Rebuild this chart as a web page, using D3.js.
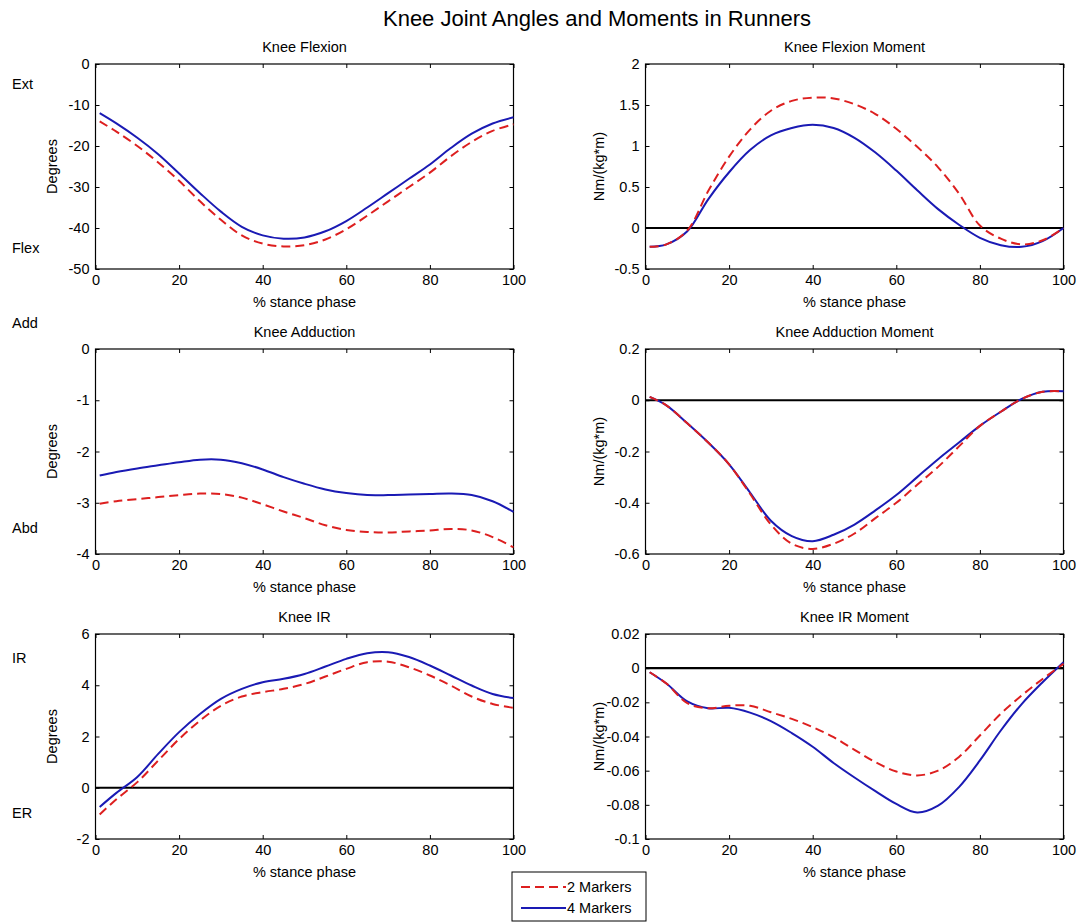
<!DOCTYPE html>
<html>
<head>
<meta charset="utf-8">
<script src="https://cdn.jsdelivr.net/npm/d3@7"></script>
<style>
body { margin: 0; background: #fff; }
text { font-family: "Liberation Sans", Arial, sans-serif; fill: #000; }
</style>
</head>
<body>
<div id="chart"></div>
<script>
// % stance phase samples
const pct = [1, 5, 10, 15, 20, 25, 30, 35, 40, 45, 50, 55, 60, 65, 70, 75, 80, 85, 90, 95, 100];
const xTicks = [0, 20, 40, 60, 80, 100];

// knee flexion (deg)
const flex2 = [-14, -16.5, -20, -24, -28.5, -33.5, -38, -41.8, -43.8, -44.5, -44.2, -42.8, -40.3, -37, -33.5, -30, -26.5, -22.5, -19, -16.3, -14.7];
const flex4 = [-12, -14.5, -18, -22, -26.7, -31.5, -36, -39.7, -41.8, -42.6, -42.3, -40.8, -38.3, -35, -31.5, -28, -24.5, -20.5, -17, -14.5, -13];
const flexTicks = [0, -10, -20, -30, -40, -50];

// knee flexion moment
const flexMom2 = [-0.23, -0.2, -0.03, 0.45, 0.87, 1.2, 1.43, 1.55, 1.59, 1.58, 1.51, 1.39, 1.21, 0.99, 0.74, 0.42, 0.03, -0.13, -0.2, -0.15, 0];
const flexMom4 = [-0.23, -0.2, -0.04, 0.35, 0.68, 0.95, 1.13, 1.22, 1.26, 1.22, 1.1, 0.92, 0.7, 0.46, 0.23, 0.04, -0.12, -0.21, -0.23, -0.16, 0];
const flexMomTicks = [2, 1.5, 1, 0.5, 0, -0.5];

// knee adduction (deg)
const add2 = [-3.02, -2.97, -2.93, -2.89, -2.85, -2.82, -2.83, -2.9, -3.03, -3.17, -3.3, -3.44, -3.53, -3.57, -3.58, -3.56, -3.54, -3.51, -3.54, -3.67, -3.87];
const add4 = [-2.47, -2.4, -2.33, -2.27, -2.21, -2.16, -2.16, -2.23, -2.35, -2.5, -2.63, -2.74, -2.81, -2.85, -2.85, -2.84, -2.83, -2.82, -2.85, -2.97, -3.18];
const addTicks = [0, -1, -2, -3, -4];

// knee adduction moment
const addMom2 = [0.013, -0.02, -0.09, -0.165, -0.25, -0.365, -0.485, -0.56, -0.58, -0.56, -0.52, -0.46, -0.4, -0.33, -0.26, -0.18, -0.1, -0.045, 0.005, 0.033, 0.035];
const addMom4 = [0.013, -0.02, -0.09, -0.165, -0.25, -0.36, -0.47, -0.53, -0.55, -0.525, -0.485, -0.43, -0.37, -0.3, -0.23, -0.165, -0.1, -0.045, 0.005, 0.033, 0.035];
const addMomTicks = [0.2, 0, -0.2, -0.4, -0.6];

// knee internal rotation (deg)
const ir2 = [-1.04, -0.45, 0.22, 1.06, 1.9, 2.62, 3.2, 3.56, 3.73, 3.86, 4.05, 4.34, 4.64, 4.9, 4.92, 4.7, 4.38, 3.99, 3.56, 3.27, 3.12];
const ir4 = [-0.75, -0.2, 0.42, 1.32, 2.17, 2.88, 3.47, 3.86, 4.12, 4.25, 4.44, 4.73, 5.03, 5.25, 5.29, 5.1, 4.77, 4.38, 3.99, 3.66, 3.5];
const irTicks = [6, 4, 2, 0, -2];

// knee IR moment
const irMom2 = [-0.0024, -0.009, -0.0205, -0.0235, -0.022, -0.022, -0.0258, -0.0297, -0.0345, -0.0404, -0.0478, -0.055, -0.0605, -0.0628, -0.06, -0.052, -0.0394, -0.0267, -0.016, -0.0063, 0.0025];
const irMom4 = [-0.0024, -0.009, -0.0195, -0.0235, -0.0232, -0.026, -0.031, -0.038, -0.046, -0.0555, -0.064, -0.072, -0.0795, -0.0845, -0.0805, -0.0696, -0.054, -0.0365, -0.021, -0.0082, 0.0035];
const irMomTicks = [0.02, 0, -0.02, -0.04, -0.06, -0.08, -0.1];

const titles = ['Knee Flexion', 'Knee Flexion Moment', 'Knee Adduction', 'Knee Adduction Moment', 'Knee IR', 'Knee IR Moment'];
const sideLabels = [['Ext', 'Flex'], ['Add', 'Abd'], ['IR', 'ER']];
const seriesNames = ['2 Markers', '4 Markers'];

const red = '#dd1f1f', blue = '#1a1ab4';
const fs = '14.5px';

const W = 1079, H = 922;
const svg = d3.select('#chart').append('svg').attr('width', W).attr('height', H);

// layout (px)
const colX = [95.5, 645.5], pw = 418, ph = 205;
const rowY = [64, 349, 634];
const sideY = [[84, 248], [323, 528], [658, 813]];

svg.append('text')
    .attr('x', 597).attr('y', 18)
    .attr('dy', '0.35em')
    .attr('text-anchor', 'middle')
    .style('font-size', '22px')
    .text('Knee Joint Angles and Moments in Runners');

const panels = [
    { two: flex2, four: flex4, ticks: flexTicks, unit: 'Degrees', zero: false },
    { two: flexMom2, four: flexMom4, ticks: flexMomTicks, unit: 'Nm/(kg*m)', zero: true },
    { two: add2, four: add4, ticks: addTicks, unit: 'Degrees', zero: false },
    { two: addMom2, four: addMom4, ticks: addMomTicks, unit: 'Nm/(kg*m)', zero: true },
    { two: ir2, four: ir4, ticks: irTicks, unit: 'Degrees', zero: true },
    { two: irMom2, four: irMom4, ticks: irMomTicks, unit: 'Nm/(kg*m)', zero: true }
];

panels.forEach(function (p, i) {
    const row = Math.floor(i / 2), col = i % 2;
    const g = svg.append('g').attr('transform', 'translate(' + colX[col] + ',' + rowY[row] + ')');

    const x = d3.scaleLinear().domain([0, 100]).range([0, pw]);
    const y = d3.scaleLinear().domain(d3.extent(p.ticks)).range([ph, 0]);

    const fmt = d => String(d);

    // bottom / left axes with labels, ticks pointing in
    const ax = g.append('g').attr('transform', 'translate(0,' + ph + ')')
        .call(d3.axisBottom(x).tickValues(xTicks).tickFormat(fmt).tickSizeInner(-4).tickSizeOuter(0).tickPadding(6));
    const ay = g.append('g')
        .call(d3.axisLeft(y).tickValues(p.ticks).tickFormat(fmt).tickSizeInner(-4).tickSizeOuter(0).tickPadding(6));
    // mirrored ticks top / right
    const axt = g.append('g')
        .call(d3.axisTop(x).tickValues(xTicks).tickFormat('').tickSizeInner(-4).tickSizeOuter(0));
    const ayr = g.append('g').attr('transform', 'translate(' + pw + ',0)')
        .call(d3.axisRight(y).tickValues(p.ticks).tickFormat('').tickSizeInner(-4).tickSizeOuter(0));
    [ax, ay, axt, ayr].forEach(a => {
        a.select('.domain').remove();
        a.selectAll('text').style('font-size', fs).style('font-family', '"Liberation Sans", Arial, sans-serif').attr('fill', '#000');
        a.selectAll('line').attr('stroke', '#000');
    });

    g.append('rect')
        .attr('width', pw).attr('height', ph)
        .attr('fill', 'none').attr('stroke', '#000').attr('stroke-width', 1.2);

    if (p.zero) {
        g.append('line')
            .attr('x1', 0).attr('x2', pw)
            .attr('y1', y(0)).attr('y2', y(0))
            .attr('stroke', '#000').attr('stroke-width', 2.2);
    }

    const line = d3.line()
        .x(d => x(d[0]))
        .y(d => y(d[1]))
        .curve(d3.curveCatmullRom.alpha(0.5));

    g.append('path')
        .datum(d3.zip(pct, p.four))
        .attr('d', line)
        .attr('fill', 'none').attr('stroke', blue).attr('stroke-width', 2);
    g.append('path')
        .datum(d3.zip(pct, p.two))
        .attr('d', line)
        .attr('fill', 'none').attr('stroke', red).attr('stroke-width', 2)
        .attr('stroke-dasharray', '9,5');

    g.append('text')
        .attr('x', pw / 2).attr('y', -17)
        .attr('dy', '0.35em')
        .attr('text-anchor', 'middle')
        .style('font-size', fs)
        .text(titles[i]);

    g.append('text')
        .attr('x', pw / 2).attr('y', ph + 33)
        .attr('dy', '0.35em')
        .attr('text-anchor', 'middle')
        .style('font-size', fs)
        .text('% stance phase');

    g.append('text')
        .attr('transform', 'translate(' + (col === 0 ? -44 : -47) + ',' + (ph / 2) + ') rotate(-90)')
        .attr('dy', '0.35em')
        .attr('text-anchor', 'middle')
        .style('font-size', fs)
        .text(p.unit);
});

// Ext / Flex, Add / Abd, IR / ER
sideLabels.forEach(function (pair, r) {
    pair.forEach(function (t, k) {
        svg.append('text')
            .attr('x', 12).attr('y', sideY[r][k])
            .attr('dy', '0.35em')
            .style('font-size', fs)
            .text(t);
    });
});

// legend
const lg = svg.append('g').attr('transform', 'translate(512,872)');
lg.append('rect')
    .attr('width', 134).attr('height', 49)
    .attr('fill', '#fff').attr('stroke', '#000').attr('stroke-width', 1);
seriesNames.forEach(function (name, k) {
    const yy = 15 + k * 21;
    lg.append('line')
        .attr('x1', 9).attr('x2', 54)
        .attr('y1', yy).attr('y2', yy)
        .attr('stroke', k === 0 ? red : blue)
        .attr('stroke-width', 2)
        .attr('stroke-dasharray', k === 0 ? '9,5' : null);
    lg.append('text')
        .attr('x', 55).attr('y', yy)
        .attr('dy', '0.35em')
        .style('font-size', fs)
        .text(name);
});
</script>
</body>
</html>
